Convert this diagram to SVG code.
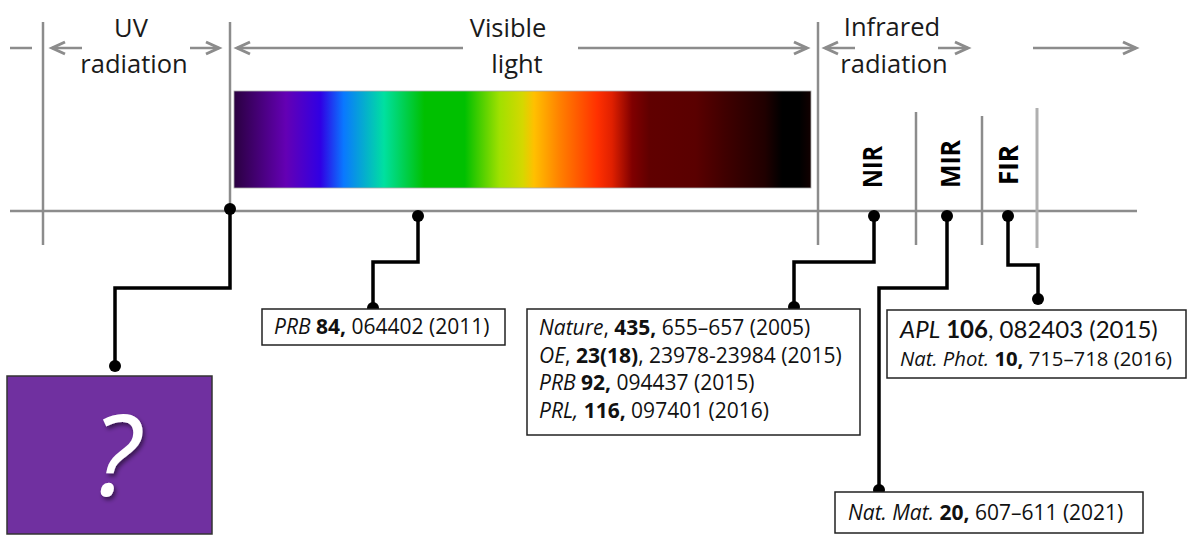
<svg xmlns="http://www.w3.org/2000/svg" width="1204" height="541" viewBox="0 0 1204 541">
<defs>
<style>
.g{stroke:#8c8c8c;stroke-width:2.5;fill:none}
.lab{font-family:"Open Sans","Noto Sans",sans-serif;font-size:25.5px;fill:#1a1a1a;text-anchor:middle}
.rot{font-family:"Open Sans","Noto Sans",sans-serif;font-size:27px;font-weight:bold;fill:#000;text-anchor:middle}
.ref{font-family:"Open Sans","Noto Sans",sans-serif;font-size:21px;fill:#111}
.box{fill:#fff;stroke:#222;stroke-width:1.5}
.c{stroke:#000;stroke-width:3.5;fill:none;stroke-linejoin:miter}
.b{font-weight:bold}
.i{font-style:italic}
</style>
<marker id="ah" markerUnits="userSpaceOnUse" markerWidth="20" markerHeight="18" refX="15" refY="8" orient="auto">
<path d="M2,2 L15,8 L2,14" fill="none" stroke="#8c8c8c" stroke-width="3"/>
</marker>
<linearGradient id="spec" x1="0" y1="0" x2="1" y2="0">
<stop offset="0" stop-color="#2a0040"/>
<stop offset="0.09" stop-color="#6400b4"/>
<stop offset="0.15" stop-color="#3000e4"/>
<stop offset="0.19" stop-color="#0a78ff"/>
<stop offset="0.26" stop-color="#00e0a0"/>
<stop offset="0.33" stop-color="#00c000"/>
<stop offset="0.40" stop-color="#00c000"/>
<stop offset="0.46" stop-color="#a0e000"/>
<stop offset="0.50" stop-color="#d4d800"/>
<stop offset="0.52" stop-color="#ffc000"/>
<stop offset="0.565" stop-color="#ff8000"/>
<stop offset="0.63" stop-color="#ff3000"/>
<stop offset="0.655" stop-color="#e02000"/>
<stop offset="0.69" stop-color="#800000"/>
<stop offset="0.72" stop-color="#600000"/>
<stop offset="0.80" stop-color="#5a0000"/>
<stop offset="0.85" stop-color="#400000"/>
<stop offset="0.92" stop-color="#200000"/>
<stop offset="0.95" stop-color="#000000"/>
<stop offset="0.98" stop-color="#000000"/>
<stop offset="1" stop-color="#120000"/>
</linearGradient>
<filter id="sh" x="-30%" y="-30%" width="160%" height="160%">
<feDropShadow dx="2" dy="3" stdDeviation="2" flood-color="#000" flood-opacity="0.5"/>
</filter>
</defs>
<rect width="1204" height="541" fill="#fff"/>

<g id="axis">
<line class="g" x1="10" y1="211" x2="1137" y2="211"/>
<line class="g" x1="43" y1="22" x2="43" y2="245"/>
<line class="g" x1="230" y1="22" x2="230" y2="210"/>
<line class="g" x1="818" y1="22" x2="818" y2="245"/>
<line class="g" x1="916" y1="112" x2="916" y2="245"/>
<line class="g" x1="982" y1="116" x2="982" y2="245"/>
<line x1="1037" y1="108" x2="1037" y2="248" stroke="#b0b0b0" stroke-width="3"/>
</g>

<g id="top-arrows">
<line class="g" x1="10" y1="48" x2="32" y2="48"/>
<line class="g" x1="82" y1="48" x2="52" y2="48" marker-end="url(#ah)"/>
<line class="g" x1="190" y1="48" x2="219" y2="48" marker-end="url(#ah)"/>
<line class="g" x1="463" y1="48" x2="237" y2="48" marker-end="url(#ah)"/>
<line class="g" x1="578" y1="48" x2="807" y2="48" marker-end="url(#ah)"/>
<line class="g" x1="855" y1="48" x2="825" y2="48" marker-end="url(#ah)"/>
<line class="g" x1="938" y1="48" x2="968" y2="48" marker-end="url(#ah)"/>
<line class="g" x1="1033" y1="48" x2="1136" y2="48" marker-end="url(#ah)"/>
</g>

<g id="uv-label">
<text class="lab" x="131" y="37">UV</text>
<text class="lab" x="134" y="73">radiation</text>
</g>
<g id="visible-label">
<text class="lab" x="508" y="37">Visible</text>
<text class="lab" x="517" y="73">light</text>
</g>
<g id="ir-label">
<text class="lab" x="892" y="36">Infrared</text>
<text class="lab" x="894" y="73">radiation</text>
</g>

<g id="spectrum">
<rect x="234" y="91" width="577" height="97" fill="url(#spec)" stroke="#aaa" stroke-width="0.8"/>
</g>

<g id="nir">
<text class="rot" transform="translate(882,167) rotate(-90)" textLength="42" lengthAdjust="spacingAndGlyphs">NIR</text>
</g>
<g id="mir">
<text class="rot" transform="translate(960,164) rotate(-90)" textLength="48" lengthAdjust="spacingAndGlyphs">MIR</text>
</g>
<g id="fir">
<text class="rot" transform="translate(1018,165) rotate(-90)" textLength="40" lengthAdjust="spacingAndGlyphs">FIR</text>
</g>

<g id="connectors">
<polyline class="c" points="230,209 230,288 115,288 115,366"/>
<polyline class="c" points="418,216 418,262 373,262 373,308"/>
<polyline class="c" points="874,216 874,262 794,262 794,307"/>
<polyline class="c" points="947,216 947,288 879,288 879,490"/>
<polyline class="c" points="1008,216 1008,265 1038,265 1038,299"/>
<g fill="#000">
<circle cx="230" cy="209" r="6"/>
<circle cx="115" cy="366" r="6"/>
<circle cx="418" cy="216" r="6"/>
<circle cx="373" cy="308" r="6"/>
<circle cx="874" cy="216" r="6"/>
<circle cx="794" cy="307" r="6"/>
<circle cx="947" cy="216" r="6"/>
<circle cx="879" cy="490" r="6"/>
<circle cx="1008" cy="216" r="6"/>
<circle cx="1038" cy="299" r="6"/>
</g>
</g>

<g id="unknown-box">
<rect x="7" y="376" width="205" height="158" fill="#7030a0" stroke="#333" stroke-width="1.5"/>
<text x="116" y="495" font-family="'Open Sans','Noto Sans',sans-serif" font-size="112" font-style="italic" fill="#fff" text-anchor="middle" filter="url(#sh)">?</text>
</g>

<g id="box-prb84">
<rect class="box" x="262" y="309" width="243" height="36"/>
<text class="ref" x="274" y="334"><tspan class="i">PRB</tspan> <tspan class="b">84,</tspan> 064402 (2011)</text>
</g>

<g id="box-nir">
<rect class="box" x="527" y="309" width="333" height="126"/>
<text class="ref" x="539" y="335"><tspan class="i">Nature</tspan>, <tspan class="b">435,</tspan> 655–657 (2005)</text>
<text class="ref" x="539" y="363"><tspan class="i">OE</tspan>, <tspan class="b">23(18)</tspan>, 23978-23984 (2015)</text>
<text class="ref" x="539" y="390"><tspan class="i">PRB</tspan> <tspan class="b">92,</tspan> 094437 (2015)</text>
<text class="ref" x="539" y="418"><tspan class="i">PRL,</tspan> <tspan class="b">116,</tspan> 097401 (2016)</text>
</g>

<g id="box-fir">
<rect class="box" x="887" y="310" width="299" height="68"/>
<text x="900" y="338" font-family="Lato,'Open Sans',sans-serif" font-size="24" fill="#111"><tspan font-style="italic">APL</tspan> <tspan font-weight="bold">106</tspan>, 082403 (2015)</text>
<text class="ref" x="900" y="366" font-size="20.3px" style="font-size:20.3px"><tspan class="i">Nat. Phot.</tspan> <tspan class="b">10,</tspan> 715–718 (2016)</text>
</g>

<g id="box-mir">
<rect class="box" x="835" y="492" width="308" height="41"/>
<text class="ref" x="848" y="520"><tspan class="i">Nat. Mat.</tspan> <tspan class="b">20,</tspan> 607–611 (2021)</text>
</g>
</svg>
